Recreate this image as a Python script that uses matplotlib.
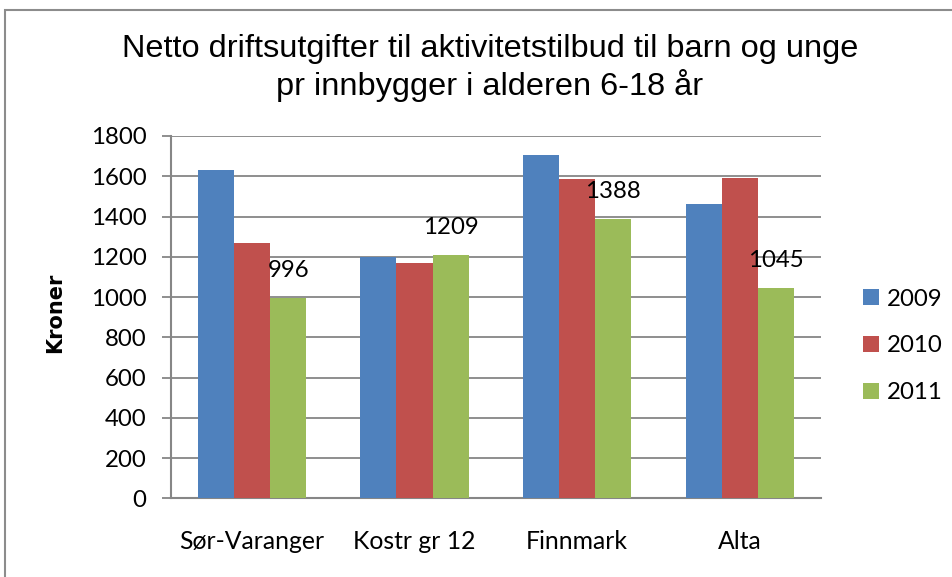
import matplotlib
matplotlib.use("Agg")
import matplotlib.pyplot as plt
from matplotlib.patches import Rectangle
import numpy as np

# Data
categories = ["Sør-Varanger", "Kostr gr 12", "Finnmark", "Alta"]
years = ["2009", "2010", "2011"]
values_2009 = [1630, 1198, 1705, 1460]
values_2010 = [1268, 1168, 1585, 1590]
values_2011 = [996, 1209, 1388, 1045]
series = [values_2009, values_2010, values_2011]
colors = ["#4F81BD", "#C0504D", "#9BBB59"]
yticks = [0, 200, 400, 600, 800, 1000, 1200, 1400, 1600, 1800]

W, H = 953, 577
fig = plt.figure(figsize=(W / 100, H / 100), dpi=100)

ax = fig.add_axes([170.7 / W, 1 - 498.3 / H, (821 - 170.7) / W, (498.3 - 136) / H])

grid_col = "#868686"
body_font = "Lato"
body_size = 17.3

x = np.arange(len(categories))
bw = 1 / 4.5
bars = []
for i, (vals, col, yr) in enumerate(zip(series, colors, years)):
    b = ax.bar(x + (i - 1) * bw, vals, width=bw, color=col, label=yr, zorder=3)
    bars.append(b)

# value labels for 2011
for xi, v in zip(x + bw, values_2011):
    ax.annotate(str(v), xy=(xi, v), xytext=(0, 19.5), textcoords="offset points",
                ha="center", va="center", fontsize=body_size, family=body_font, zorder=4)

ax.set_xlim(-0.5, 3.5)
ax.set_ylim(0, 1800)
ax.set_yticks(yticks)
ax.set_yticklabels([str(t) for t in yticks], fontsize=body_size, family=body_font)
ax.set_xticks(x)
ax.set_xticklabels(categories, fontsize=17.8, family=body_font)
ax.yaxis.grid(True, color=grid_col, linewidth=1.3, zorder=0)
ax.tick_params(axis="y", length=6.5, width=1.3, color=grid_col, pad=11)
ax.tick_params(axis="x", length=0, pad=23)
for s in ["top", "right"]:
    ax.spines[s].set_visible(False)
for s in ["left", "bottom"]:
    ax.spines[s].set_color(grid_col)
    ax.spines[s].set_linewidth(1.5)
ax.set_axisbelow(True)

fig.text(55 / W, 1 - 313 / H, "Kroner", rotation=90, ha="center", va="center",
         fontsize=15, fontweight="bold", family="DejaVu Sans")

fig.text(490 / W, 1 - 68 / H, "Netto driftsutgifter til aktivitetstilbud til barn og unge\npr innbygger i alderen 6-18 år",
         ha="center", va="center", fontsize=23.4, family="Liberation Sans", linespacing=1.23)

leg = fig.legend(handles=bars, labels=years, loc="center left",
                 bbox_to_anchor=(863 / W, 1 - 346 / H), bbox_transform=fig.transFigure,
                 frameon=False, borderpad=0, borderaxespad=0,
                 prop={"family": body_font, "size": body_size},
                 handlelength=0.65, handleheight=0.65, handletextpad=0.33, labelspacing=1.08)

# outer chart frame
fig.patches.append(Rectangle((5 / W, -0.05), 2, 1.05 - 10 / H, transform=fig.transFigure,
                             fill=False, edgecolor="#8c8c8c", linewidth=1.5))

fig.savefig("out.png", dpi=100)
